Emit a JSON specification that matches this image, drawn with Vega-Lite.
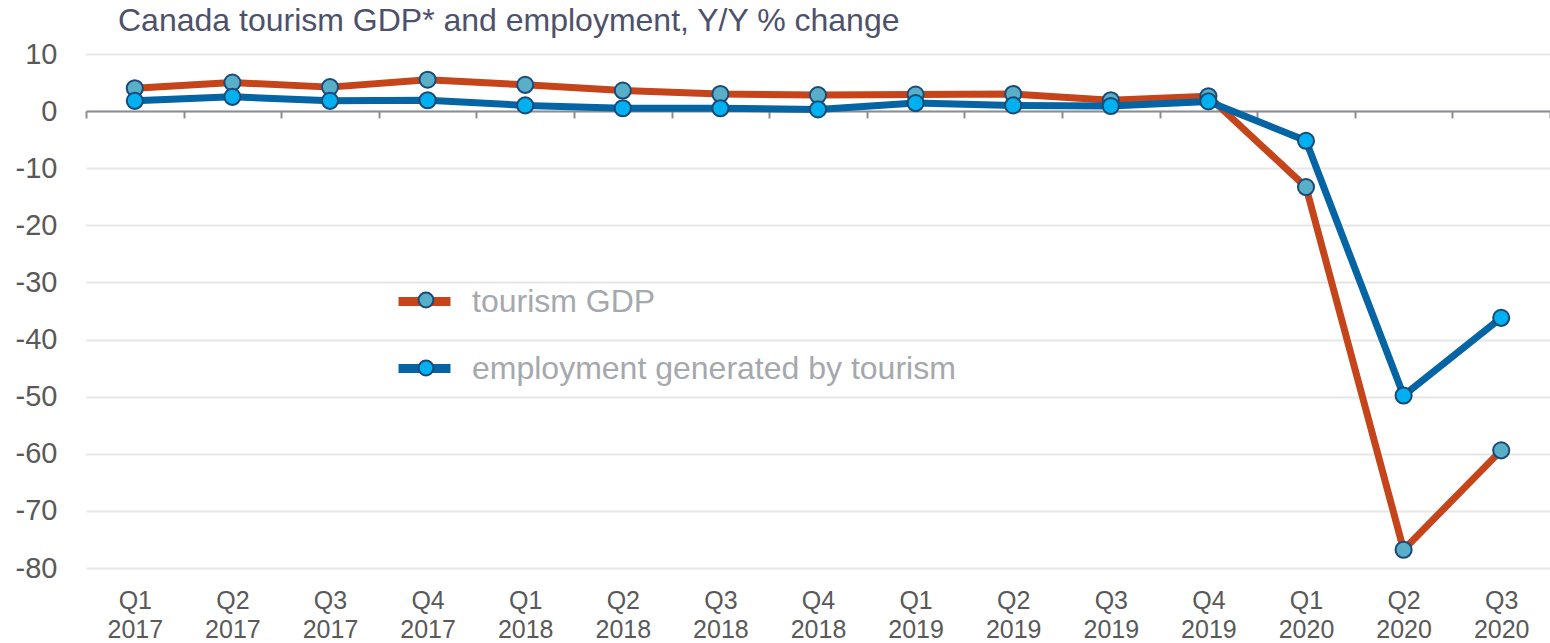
{
  "$schema": "https://vega.github.io/schema/vega-lite/v6.json",
  "width": 1464,
  "height": 514,
  "autosize": "none",
  "padding": {"left": 86, "top": 54, "right": 0, "bottom": 75},
  "background": "white",
  "config": {"view": {"stroke": null}, "font": "Liberation Sans"},
  "title": {
    "text": "Canada tourism GDP* and employment, Y/Y % change",
    "anchor": "start", "frame": "group", "dx": 32, "offset": -23,
    "fontSize": 32, "fontWeight": "normal", "color": "#4d516b",
    "font": "Liberation Sans", "baseline": "alphabetic"
  },
  "data": {"values": [
    {"quarter": "Q1 2017", "series": "tourism GDP", "value": 4.0},
    {"quarter": "Q2 2017", "series": "tourism GDP", "value": 5.0},
    {"quarter": "Q3 2017", "series": "tourism GDP", "value": 4.2},
    {"quarter": "Q4 2017", "series": "tourism GDP", "value": 5.5},
    {"quarter": "Q1 2018", "series": "tourism GDP", "value": 4.6},
    {"quarter": "Q2 2018", "series": "tourism GDP", "value": 3.6},
    {"quarter": "Q3 2018", "series": "tourism GDP", "value": 3.0},
    {"quarter": "Q4 2018", "series": "tourism GDP", "value": 2.8},
    {"quarter": "Q1 2019", "series": "tourism GDP", "value": 2.9},
    {"quarter": "Q2 2019", "series": "tourism GDP", "value": 3.0},
    {"quarter": "Q3 2019", "series": "tourism GDP", "value": 1.9},
    {"quarter": "Q4 2019", "series": "tourism GDP", "value": 2.6},
    {"quarter": "Q1 2020", "series": "tourism GDP", "value": -13.3},
    {"quarter": "Q2 2020", "series": "tourism GDP", "value": -76.8},
    {"quarter": "Q3 2020", "series": "tourism GDP", "value": -59.4},
    {"quarter": "Q1 2017", "series": "employment generated by tourism", "value": 1.8},
    {"quarter": "Q2 2017", "series": "employment generated by tourism", "value": 2.5},
    {"quarter": "Q3 2017", "series": "employment generated by tourism", "value": 1.8},
    {"quarter": "Q4 2017", "series": "employment generated by tourism", "value": 1.9},
    {"quarter": "Q1 2018", "series": "employment generated by tourism", "value": 1.0},
    {"quarter": "Q2 2018", "series": "employment generated by tourism", "value": 0.5},
    {"quarter": "Q3 2018", "series": "employment generated by tourism", "value": 0.5},
    {"quarter": "Q4 2018", "series": "employment generated by tourism", "value": 0.3},
    {"quarter": "Q1 2019", "series": "employment generated by tourism", "value": 1.4},
    {"quarter": "Q2 2019", "series": "employment generated by tourism", "value": 1.0},
    {"quarter": "Q3 2019", "series": "employment generated by tourism", "value": 0.9},
    {"quarter": "Q4 2019", "series": "employment generated by tourism", "value": 1.7},
    {"quarter": "Q1 2020", "series": "employment generated by tourism", "value": -5.2},
    {"quarter": "Q2 2020", "series": "employment generated by tourism", "value": -49.8},
    {"quarter": "Q3 2020", "series": "employment generated by tourism", "value": -36.2}
  ]},
  "encoding": {
    "x": {
      "field": "quarter", "type": "ordinal", "sort": null, "bandPosition": 0.5,
      "scale": {"type": "band", "paddingInner": 0, "paddingOuter": 0},
      "axis": {
        "title": null, "orient": "bottom", "offset": -457, "grid": false,
        "domainColor": "#8a8e94", "domainWidth": 2,
        "tickColor": "#8a8e94", "tickWidth": 2, "tickSize": 7, "tickBand": "extent",
        "labelExpr": "isValid(datum.value) ? split(datum.value, ' ') : ''", "labelAngle": 0,
        "labelFontSize": 25, "labelColor": "#595959", "labelFont": "Liberation Sans",
        "labelPadding": 470, "labelLineHeight": 29, "labelBaseline": "top"
      }
    },
    "y": {
      "field": "value", "type": "quantitative",
      "scale": {"domain": [-80, 10], "nice": false, "zero": false},
      "axis": {
        "title": null, "values": [10, 0, -10, -20, -30, -40, -50, -60, -70, -80],
        "labelExpr": "toString(datum.value)",
        "domain": false, "ticks": false, "labelFontSize": 29, "labelColor": "#595959",
        "labelFont": "Liberation Sans", "labelPadding": 29,
        "gridColor": "#e6e6e6", "gridWidth": 2
      }
    }
  },
  "layer": [
    {
      "mark": {"type": "line", "strokeWidth": 7, "strokeJoin": "round", "strokeCap": "round"},
      "encoding": {
        "stroke": {
          "field": "series", "type": "nominal",
          "scale": {"domain": ["tourism GDP", "employment generated by tourism"], "range": ["#c5441a", "#0464a4"]},
          "legend": {
            "orient": "none", "legendX": 308, "legendY": 217, "title": null, "padding": 0,
            "symbolType": "stroke", "symbolSize": 2700, "symbolStrokeWidth": 9,
            "labelFontSize": 32, "labelColor": "#a5a8ad", "labelFont": "Liberation Sans",
            "labelOffset": 17, "labelLimit": 800, "rowPadding": 18
          }
        }
      }
    },
    {
      "mark": {"type": "point", "filled": true, "size": 260, "stroke": "#1a4b78", "strokeWidth": 2, "opacity": 1},
      "encoding": {
        "fill": {
          "field": "series", "type": "nominal",
          "sort": ["tourism GDP", "employment generated by tourism"],
          "scale": {"range": ["#5aafc8", "#00b0f0"]},
          "legend": {
            "orient": "none", "legendX": 324, "legendY": 230, "title": null, "padding": 0,
            "symbolType": "circle", "symbolSize": 220, "symbolStrokeWidth": 2, "symbolStrokeColor": "#1a4b78",
            "labelFontSize": 32, "labelOpacity": 0, "labelLimit": 800, "rowPadding": 36
          }
        }
      }
    }
  ]
}
